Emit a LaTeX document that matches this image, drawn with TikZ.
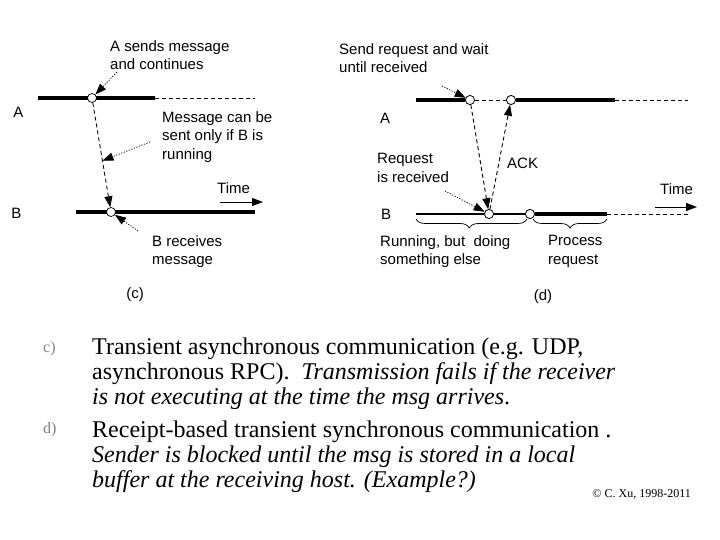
\documentclass[tikz,border=0pt]{standalone}
\usepackage{fontspec}
\setmainfont{Liberation Serif}
\setsansfont{Liberation Sans}
\usetikzlibrary{arrows.meta,calc,decorations.pathreplacing}
\begin{document}
\begin{tikzpicture}[x=1pt,y=-1pt,
  lbl/.style={font=\sffamily\fontsize{15}{18.5}\selectfont, inner sep=0pt, align=left, anchor=north west},
  tag/.style={font=\sffamily\fontsize{15}{18}\selectfont, inner sep=0pt},
  ev/.style={circle, draw, fill=white, line width=0.7pt, minimum size=9pt, inner sep=0pt},
  thickline/.style={line width=4pt},
  midline/.style={line width=2.4pt},
  cont/.style={line width=0.9pt, dash pattern=on 4pt off 3pt},
  msg/.style={line width=0.9pt, dash pattern=on 4pt off 3pt, -{Triangle[length=11pt,width=8pt]}},
  note/.style={line width=0.7pt, dash pattern=on 1.2pt off 1.5pt, -{Triangle[length=11pt,width=8pt]}},
  timearrow/.style={line width=0.9pt, -{Triangle[length=11pt,width=8pt]}},
  bracestyle/.style={line width=0.7pt, decorate, decoration={brace, mirror, amplitude=9pt}},
  body/.style={font=\fontsize{24}{25}\selectfont, inner sep=0pt, align=left, anchor=north west},
  itemtag/.style={font=\fontsize{16}{18}\selectfont, text=gray, inner sep=0pt, anchor=base west}
]
\useasboundingbox (0,0) rectangle (720,540);

% ---------------- (c) ----------------
\coordinate (cAs) at (38,98);
\coordinate (cAe) at (155,98);
\coordinate (cAd) at (255,98);
\coordinate (cBs) at (76,212);
\coordinate (cBe) at (255,212);
\draw[thickline] (cAs) -- (cAe);
\draw[cont] (cAe) -- (cAd);
\draw[thickline] (cBs) -- (cBe);
\node[ev] (ca) at (92,98) {};
\node[ev] (cb) at (111,212) {};
\draw[msg] (ca) -- (cb);
\coordinate (cmid) at ($(ca)!0.55!(cb)$);

\node[tag] (cAlbl) at (18.5,112) {A};
\node[tag] (cBlbl) at (16.5,213) {B};

\node[lbl] (csend) at (110,40) {A sends message\\and continues};
\coordinate (csendt) at (117,72);
\draw[note] (csendt) -- (ca);

\node[lbl] (conly) at (162,111) {Message can be\\sent only if B is\\running};
\coordinate (conlyt) at (150,142);
\draw[note] (conlyt) -- (cmid);

\node[lbl] (crecv) at (152,235) {B receives\\message};
\coordinate (crecvt) at (138,231);
\draw[note] (crecvt) -- (cb);

\node[lbl] (ctime) at (217,182) {Time};
\coordinate (ct1) at (220,202);
\coordinate (ct2) at (263,202);
\draw[timearrow] (ct1) -- (ct2);

\node[tag] (clab) at (135,295) {(c)};

% ---------------- (d) ----------------
\node[ev] (da) at (470,100) {};
\node[ev] (db) at (511,100) {};
\node[ev] (dc) at (489,214) {};
\node[ev] (dd) at (530,214) {};
\coordinate (dAs) at (416,100);
\coordinate (dAe) at (615,100);
\coordinate (dAd) at (688,100);
\coordinate (dBs) at (416,214);
\coordinate (dBe) at (607,214);
\coordinate (dBd) at (688,214);
\draw[thickline] (dAs) -- (da.west);
\draw[cont] (da) -- (db);
\draw[thickline] (db.east) -- (dAe);
\draw[cont] (dAe) -- (dAd);
\draw[midline] (dBs) -- (dc.west);
\draw[midline] (dc.east) -- (dd.west);
\draw[thickline] (dd.east) -- (dBe);
\draw[cont] (dBe) -- (dBd);
\node[ev] at (da) {};
\node[ev] at (db) {};
\node[ev] at (dc) {};
\node[ev] at (dd) {};
\draw[msg] (da) -- (dc);
\draw[msg] (dc) -- (db);

\node[tag] (dAlbl) at (385,118) {A};
\node[tag] (dBlbl) at (386,214) {B};

\node[lbl] (dsend) at (339,43) {Send request and wait\\until received};
\coordinate (dsendt) at (442,86);
\draw[note] (dsendt) -- (da);

\node[lbl] (dreq) at (377,153) {Request\\is received};
\coordinate (dreqt) at (445,191);
\draw[note] (dreqt) -- (dc);

\node[lbl] (dack) at (507,158) {ACK};

\node[lbl] (dtime) at (660,183) {Time};
\coordinate (dt1) at (655,207);
\coordinate (dt2) at (697,207);
\draw[timearrow] (dt1) -- (dt2);

\coordinate (br1s) at (416,219);
\coordinate (br1e) at (527,219);
\coordinate (br2s) at (533,219);
\coordinate (br2e) at (607,219);
\draw[bracestyle, decoration={aspect=0.48}] (br1s) -- (br1e);
\draw[bracestyle] (br2s) -- (br2e);

\node[lbl] (drun) at (380,235) {Running, but\ \ doing\\something else};
\node[lbl] (dproc) at (548,235) {Process\\request};

\node[tag] (dlab) at (543,297) {(d)};

% ---------------- text ----------------
\node[itemtag] (ic) at (43,352) {c)};
\node[body] (pc) at (92,337.5) {Transient asynchronous communication (e.g. UDP,\\
asynchronous RPC).\ \ \textit{Transmission fails if the receiver}\\
\textit{is not executing at the time the msg arrives}.};
\node[itemtag] (id) at (43,433) {d)};
\node[body] (pd) at (92,420.5) {Receipt-based transient synchronous communication .\\
\textit{Sender is blocked until the msg is stored in a local}\\
\textit{buffer at the receiving host. (Example?)}};
\node[font=\fontsize{12}{14}\selectfont, inner sep=0pt, anchor=base east] (copy) at (691,497) {\textcopyright\ C. Xu, 1998-2011};
\end{tikzpicture}
\end{document}
